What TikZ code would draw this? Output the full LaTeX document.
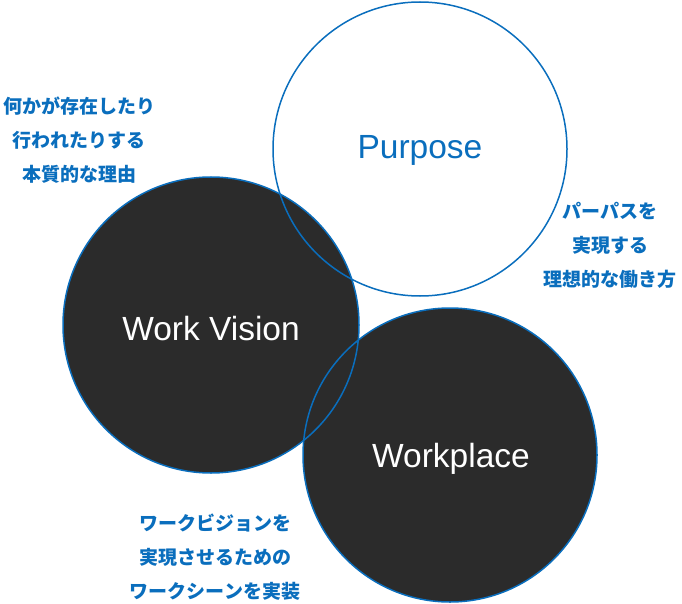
\documentclass[tikz,border=0pt]{standalone}
\usepackage{fontspec}
\setmainfont{Liberation Sans}
\newfontfamily\cjk{Noto Sans CJK JP}
\definecolor{brandblue}{HTML}{0A6EBD}
\definecolor{darkfill}{HTML}{2B2B2B}
\begin{document}
\begin{tikzpicture}[x=1pt,y=-1pt,
    ring/.style={draw=brandblue,line width=1.5pt},
    title/.style={font=\fontsize{33.5}{40}\selectfont},
    note/.style={text=brandblue,align=center,font=\cjk\bfseries\fontsize{19}{34}\selectfont}]
            \useasboundingbox (0,0) rectangle (682,604);
            \fill[darkfill] (211,325) circle (148);
            \fill[darkfill] (450,455) circle (147);
            \draw[ring] (211,325) circle (148);
            \draw[ring] (450,455) circle (147);
            \draw[ring] (420,149) circle (147);
            \node[title,text=brandblue] (purpose) at (420,150) {Purpose};
            \node[title,text=white] (vision) at (211,329) {Work Vision};
            \node[title,text=white] (workplace) at (451,459) {Workplace};
            \node[note] (whynote) at (79,140) {何かが存在したり\\行われたりする\\本質的な理由};
            \node[note] (purposenote) at (610,245) {パーパスを\\実現する\\理想的な働き方};
            \node[note] (scenenote) at (215,557) {ワークビジョンを\\実現させるための\\ワークシーンを実装};
        \end{tikzpicture}
\end{document}
